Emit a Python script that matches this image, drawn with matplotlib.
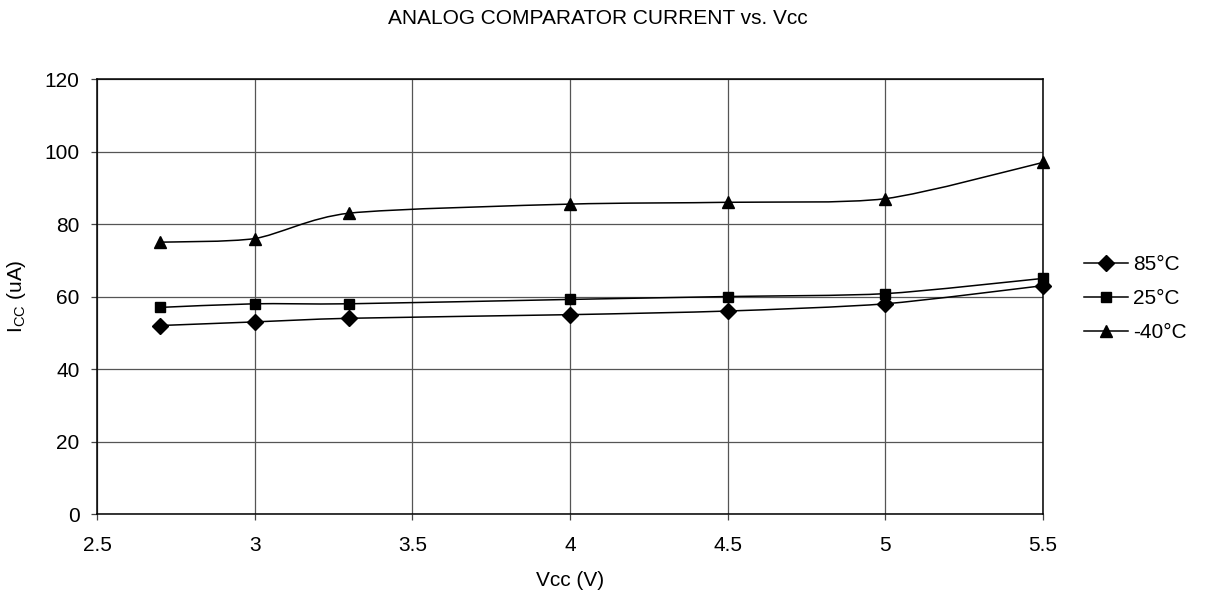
import matplotlib
matplotlib.use("Agg")
import matplotlib.pyplot as plt
from matplotlib.path import Path
from matplotlib.patches import PathPatch
from matplotlib.lines import Line2D
import numpy as np

plt.rcParams['font.family'] = ['Liberation Sans', 'DejaVu Sans']
plt.rcParams['mathtext.fontset'] = 'custom'
plt.rcParams['mathtext.rm'] = 'Liberation Sans'

vcc = [2.7, 3.0, 3.3, 4.0, 4.5, 5.0, 5.5]
i_85 = [52, 53, 54, 55, 56, 58, 63]
i_25 = [57, 58, 58, 59.2, 60, 60.8, 65]
i_m40 = [75, 76, 83, 85.5, 86, 87, 97]

labels = ['85°C', '25°C', '-40°C']
markers = ['D', 's', '^']
msizes = [8, 6.5, 9]


def smooth_path(x, y, k=8.0):
    # bezier through the points, like a spreadsheet "smoothed line"
    pts = np.column_stack([x, y]).astype(float)
    n = len(pts)
    verts = [pts[0]]
    codes = [Path.MOVETO]
    for i in range(n - 1):
        p0 = pts[i - 1] if i > 0 else pts[i]
        p1 = pts[i]
        p2 = pts[i + 1]
        p3 = pts[i + 2] if i + 2 < n else pts[i + 1]
        c1 = p1 + (p2 - p0) / k
        c2 = p2 - (p3 - p1) / k
        verts += [c1, c2, p2]
        codes += [Path.CURVE4] * 3
    return Path(verts, codes)


fig = plt.figure(figsize=(12.06, 5.99), dpi=100)
ax = fig.add_axes([0.0804, 0.1419, 0.7844, 0.7261])

for ys, m, ms in zip([i_85, i_25, i_m40], markers, msizes):
    ax.add_patch(PathPatch(smooth_path(vcc, ys), facecolor='none',
                           edgecolor='black', lw=1.1, zorder=3))
    ax.plot(vcc, ys, linestyle='none', marker=m, markersize=ms,
            color='black', zorder=4, clip_on=False)

ax.set_xlim(2.5, 5.5)
ax.set_ylim(0, 120)
ax.set_xticks(np.arange(2.5, 5.51, 0.5))
ax.set_xticklabels(['2.5', '3', '3.5', '4', '4.5', '5', '5.5'])
ax.set_yticks(np.arange(0, 121, 20))
ax.grid(True, color='#555555', lw=0.9)
ax.set_axisbelow(True)
ax.tick_params(labelsize=15, length=4.5, width=0.9, color='#444444')
ax.tick_params(axis='x', pad=11)
ax.tick_params(axis='y', pad=8)
for s in ax.spines.values():
    s.set_color('black')
    s.set_linewidth(1.1)

ax.set_xlabel('Vcc (V)', fontsize=15, labelpad=12)
ax.set_ylabel('I$_{\\mathrm{CC}}$ (uA)', fontsize=15, labelpad=12)
fig.text(0.496, 0.969, 'ANALOG COMPARATOR CURRENT vs. Vcc', ha='center',
         va='center', fontsize=15)

handles = [Line2D([], [], color='black', lw=1.1, marker=m, markersize=ms)
           for m, ms in zip(markers, msizes)]
fig.legend(handles, labels, loc='center left', bbox_to_anchor=(0.899, 0.501),
           frameon=False, fontsize=15, handlelength=2.1, handletextpad=0.25,
           labelspacing=0.72, borderaxespad=0, borderpad=0)

fig.savefig('out.png', dpi=100)
